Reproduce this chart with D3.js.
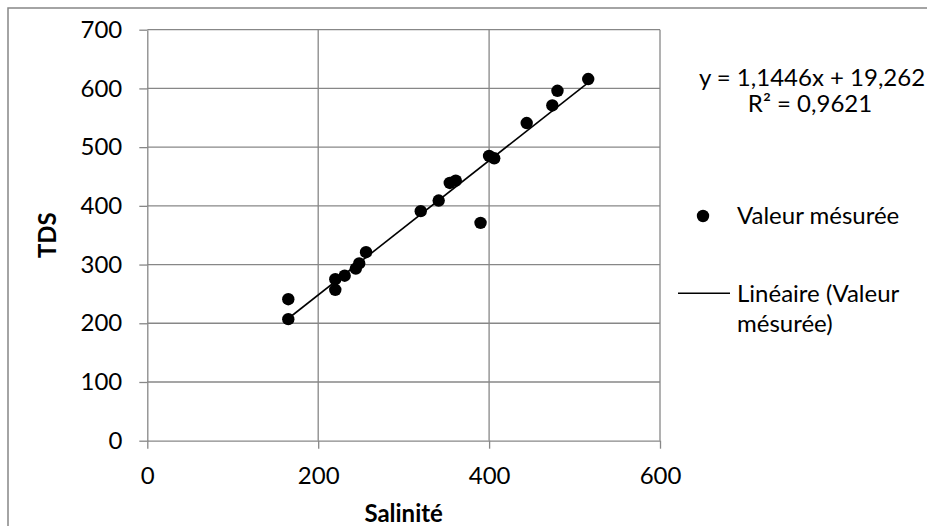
<!DOCTYPE html>
<html>
<head>
<meta charset="utf-8">
<script src="https://cdn.jsdelivr.net/npm/d3@7/dist/d3.min.js"></script>
<style>
  html, body { margin: 0; padding: 0; background: #fff; }
  svg { display: block; font-family: Lato, "Open Sans", sans-serif; }
</style>
</head>
<body>
<svg id="chart" width="927" height="526"></svg>
<script>
// Measured samples: salinity vs total dissolved solids
const salinite = [165, 165, 220, 220, 231, 244, 248, 256, 320, 341, 354, 361, 390, 400, 406, 444, 474, 480, 516];
const tds      = [207, 241, 257, 275, 281, 293, 302, 321, 391, 409, 439, 443, 371, 485, 481, 541, 571, 596, 616];

// Linear trend line coefficients (y = a·x + b)
const slope = 1.1446;
const intercept = 19.262;
const rSquared = 0.9621;

const xTicks = [0, 200, 400, 600];
const yTicks = [0, 100, 200, 300, 400, 500, 600, 700];

const xTitle = "Salinité";
const yTitle = "TDS";
const legendPoints = "Valeur mésurée";
const legendLine = ["Linéaire (Valeur", "mésurée)"];

const fmt = v => String(v).replace(".", ",");

const svg = d3.select("#chart");
const gridColor = "#878787";
const fontSize = 24;

// Chart frame
svg.append("rect")
  .attr("x", 8).attr("y", 8)
  .attr("width", 940).attr("height", 540)
  .attr("fill", "#fff")
  .attr("stroke", gridColor)
  .attr("stroke-width", 1.5);

const plot = { left: 147.3, right: 660, top: 29.7, bottom: 440.7 };

const x = d3.scaleLinear().domain([0, 600]).range([plot.left, plot.right]);
const y = d3.scaleLinear().domain([0, 700]).range([plot.bottom, plot.top]);

// Gridlines
const grid = svg.append("g").attr("stroke", gridColor).attr("stroke-width", 1.3);
grid.selectAll(".gy").data(yTicks.filter(d => d > 0)).join("line")
  .attr("x1", plot.left).attr("x2", plot.right)
  .attr("y1", d => y(d)).attr("y2", d => y(d));
grid.selectAll(".gx").data(xTicks.filter(d => d > 0)).join("line")
  .attr("x1", d => x(d)).attr("x2", d => x(d))
  .attr("y1", plot.top).attr("y2", plot.bottom);

// Axes
const styleAxis = g => {
  g.select(".domain").attr("stroke", gridColor).attr("stroke-width", 1.3);
  g.selectAll(".tick line").attr("stroke", gridColor).attr("stroke-width", 1.3);
  g.selectAll(".tick text")
    .attr("fill", "#000")
    .attr("font-size", fontSize)
    .attr("font-family", "Lato, 'Open Sans', sans-serif");
};

svg.append("g")
  .attr("transform", `translate(0,${plot.bottom})`)
  .call(d3.axisBottom(x).tickValues(xTicks).tickFormat(fmt).tickSize(8).tickSizeOuter(0).tickPadding(18))
  .call(styleAxis);

svg.append("g")
  .attr("transform", `translate(${plot.left},0)`)
  .call(d3.axisLeft(y).tickValues(yTicks).tickFormat(fmt).tickSize(8).tickSizeOuter(0).tickPadding(17))
  .call(styleAxis);

// Axis titles
svg.append("text")
  .attr("x", (plot.left + plot.right) / 2).attr("y", 522)
  .attr("text-anchor", "middle")
  .attr("font-size", fontSize).attr("font-weight", "bold")
  .text(xTitle);

svg.append("text")
  .attr("transform", `translate(56,${(plot.top + plot.bottom) / 2}) rotate(-90)`)
  .attr("text-anchor", "middle")
  .attr("font-size", fontSize).attr("font-weight", "bold")
  .text(yTitle);

// Trend line across the measured salinity range
const [xMin, xMax] = d3.extent(salinite);
svg.append("line")
  .attr("x1", x(xMin)).attr("y1", y(slope * xMin + intercept))
  .attr("x2", x(xMax)).attr("y2", y(slope * xMax + intercept))
  .attr("stroke", "#000").attr("stroke-width", 1.6);

// Measured points
svg.append("g").selectAll("circle")
  .data(salinite.map((s, i) => [s, tds[i]]))
  .join("circle")
  .attr("cx", d => x(d[0]))
  .attr("cy", d => y(d[1]))
  .attr("r", 6.2)
  .attr("fill", "#000");

// Regression equation
svg.append("text")
  .attr("x", 812).attr("y", 86)
  .attr("text-anchor", "middle")
  .attr("font-size", fontSize)
  .text(`y = ${fmt(slope)}x + ${fmt(intercept)}`);
svg.append("text")
  .attr("x", 810).attr("y", 112)
  .attr("text-anchor", "middle")
  .attr("font-size", fontSize)
  .text(`R² = ${fmt(rSquared)}`);

// Legend
const legend = svg.append("g");
legend.append("circle").attr("cx", 703).attr("cy", 216).attr("r", 6.2).attr("fill", "#000");
legend.append("text").attr("x", 737).attr("y", 224).attr("font-size", fontSize).text(legendPoints);
legend.append("line")
  .attr("x1", 678).attr("x2", 730).attr("y1", 293.3).attr("y2", 293.3)
  .attr("stroke", "#000").attr("stroke-width", 1.6);
legend.selectAll(".ll").data(legendLine).join("text")
  .attr("x", 737).attr("y", (d, i) => 302 + i * 30)
  .attr("font-size", fontSize)
  .text(d => d);
</script>
</body>
</html>
